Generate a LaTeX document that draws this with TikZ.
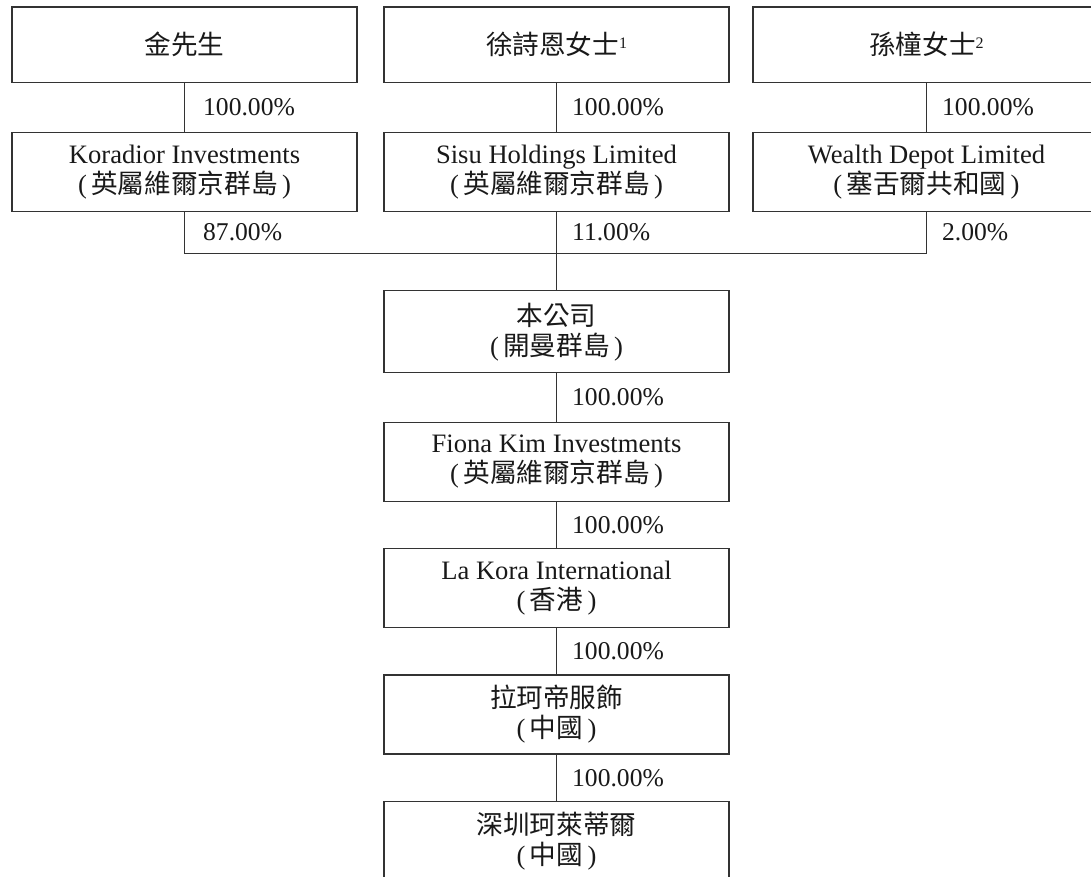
\documentclass[tikz,border=0pt]{standalone}
\usepackage{fontspec}
\setmainfont{Liberation Serif}
\newfontfamily\cjk{Noto Sans CJK TC}
\newcommand\zh[1]{{\cjk #1}}
\newcommand\note[1]{\raisebox{0.55ex}{\fontsize{8pt}{8pt}\selectfont #1}}
\usetikzlibrary{calc}

\tikzset{
  entity/.style={draw=black!80, line width=0.65pt, minimum width=172.5pt,
    minimum height=39.5pt, align=center, inner sep=0pt, text=black!90,
    font=\fontsize{13.3pt}{15pt}\selectfont},
  pct/.style={anchor=west, xshift=7.5pt, inner sep=0pt, text=black!90},
  link/.style={draw=black!80, line width=0.65pt}
}

\begin{document}
\begin{tikzpicture}[x=0.5pt, y=-0.5pt, font=\fontsize{12.8pt}{15pt}\selectfont]
\clip (0,0) rectangle (1091,877);
% owners
\node[entity, minimum height=37.75pt] (kim) at (184.5,44.7) {\zh{金先生}};
\node[entity, minimum height=37.75pt] (sze) at (556.5,44.7) {\zh{徐詩恩女士}\note{1}};
\node[entity, minimum height=37.75pt, minimum width=173.5pt] (sun) at (926.5,44.7) {\zh{孫橦女士}\note{2}};
% holding vehicles
\node[entity] (koradior) at (184.5,171.8) {Koradior Investments\\(\,\zh{英屬維爾京群島}\,)};
\node[entity] (sisu) at (556.5,171.8) {Sisu Holdings Limited\\(\,\zh{英屬維爾京群島}\,)};
\node[entity, minimum width=173.5pt] (wealth) at (926.5,171.8) {Wealth Depot Limited\\(\,\zh{塞舌爾共和國}\,)};
% group
\node[entity, minimum height=41pt] (company) at (556.5,331.8) {\zh{本公司}\\(\,\zh{開曼群島}\,)};
\node[entity] (fiona) at (556.5,461.8) {Fiona Kim Investments\\(\,\zh{英屬維爾京群島}\,)};
\node[entity] (lakora) at (556.5,587.7) {La Kora International\\(\,\zh{香港}\,)};
\node[entity] (apparel) at (556.5,714.5) {\zh{拉珂帝服飾}\\(\,\zh{中國}\,)};
\node[entity] (shenzhen) at (556.5,841.2) {\zh{深圳珂萊蒂爾}\\(\,\zh{中國}\,)};

\coordinate (join) at (556.5,253.3);

\draw[link] (kim) -- node[pct, xshift=1.5pt]{100.00\%} (koradior);
\draw[link] (sze) -- node[pct]{100.00\%} (sisu);
\draw[link] (sun) -- node[pct]{100.00\%} (wealth);

\draw[link] (koradior.south) -- node[pct, xshift=1.5pt]{87.00\%} (koradior.south |- join)
  -- (wealth.south |- join) -- node[pct]{2.00\%} (wealth.south);
\draw[link] (sisu.south) -- node[pct]{11.00\%} (join) -- (company.north);

\draw[link] (company) -- node[pct]{100.00\%} (fiona);
\draw[link] (fiona) -- node[pct]{100.00\%} (lakora);
\draw[link] (lakora) -- node[pct]{100.00\%} (apparel);
\draw[link] (apparel) -- node[pct]{100.00\%} (shenzhen);
\end{tikzpicture}
\end{document}
